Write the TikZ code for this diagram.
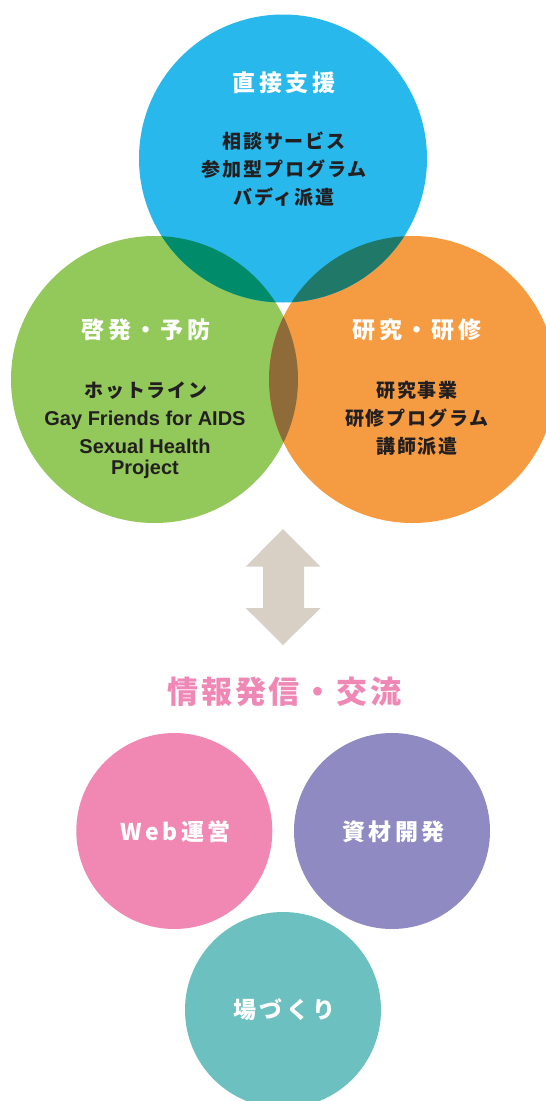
\documentclass[tikz,border=0pt]{standalone}
\usepackage{fontspec}
\newfontfamily\cjkhead[LetterSpace=15]{Noto Sans CJK JP}
\newfontfamily\cjkbody[LetterSpace=10]{Noto Sans CJK JP}
\newfontfamily\cjktitle[LetterSpace=9]{Noto Sans CJK JP}
\newfontfamily\latsans{Liberation Sans}
\definecolor{cblue}{HTML}{29B8EB}
\definecolor{cgreen}{HTML}{92C95A}
\definecolor{corange}{HTML}{F59C42}
\definecolor{cbg}{HTML}{008B6B}
\definecolor{cbo}{HTML}{207868}
\definecolor{cgo}{HTML}{8E6B38}
\definecolor{cpink}{HTML}{F088B3}
\definecolor{cpurple}{HTML}{8F8BC2}
\definecolor{cteal}{HTML}{6DC0C0}
\definecolor{carrow}{HTML}{D8D0C5}
\definecolor{ctitle}{HTML}{F088B6}
\definecolor{ctext}{HTML}{231F20}
\tikzset{
  disc/.style={circle, inner sep=0pt, minimum size=#1},
  headtxt/.style={anchor=base, text=white, font=\cjkhead\bfseries\fontsize{23}{23}\selectfont},
  bodytxt/.style={anchor=base, text=ctext, font=\cjkbody\bfseries\fontsize{19}{19}\selectfont},
  lattxt/.style={anchor=base, text=ctext, font=\latsans\bfseries\fontsize{20}{20}\selectfont},
  titletxt/.style={anchor=base, text=ctitle, font=\cjktitle\bfseries\fontsize{31}{31}\selectfont},
}
\begin{document}
\begin{tikzpicture}[x=1pt,y=-1pt]
\clip (0,0) rectangle (546,1101);
\fill[white] (0,0) rectangle (546,1101);
% three main circles
\node[disc=287pt, fill=cgreen] (green) at (154.5,379.5) {};
\node[disc=287pt, fill=corange] (orange) at (412.5,379.5) {};
\node[disc=288pt, fill=cblue] (blue) at (283,158.5) {};
% overlaps
\begin{scope}
  \clip (blue.center) circle[radius=144];
  \fill[cbg] (green.center) circle[radius=143.5];
\end{scope}
\begin{scope}
  \clip (blue.center) circle[radius=144];
  \fill[cbo] (orange.center) circle[radius=143.5];
\end{scope}
\begin{scope}
  \clip (green.center) circle[radius=143.5];
  \fill[cgo] (orange.center) circle[radius=143.5];
\end{scope}
% texts blue
\node[headtxt] (b0) at (284,91.5) {直接支援};
\node[bodytxt] (b1) at (284,148) {相談サービス};
\node[bodytxt] (b2) at (284,176) {参加型プログラム};
\node[bodytxt] (b3) at (284,204) {バディ派遣};
% texts green
\node[headtxt] (g0) at (146,338.5) {啓発・予防};
\node[bodytxt] (g1) at (146,397) {ホットライン};
\node[lattxt] (g2) at (145,425) {Gay Friends for AIDS};
\node[lattxt] (g3) at (145,453) {Sexual Health};
\node[lattxt] (g4) at (145,474) {Project};
% texts orange
\node[headtxt] (o0) at (417,338.5) {研究・研修};
\node[bodytxt] (o1) at (417,397) {研究事業};
\node[bodytxt] (o2) at (417,425) {研修プログラム};
\node[bodytxt] (o3) at (417,453) {講師派遣};
% double arrow
\coordinate (atop) at (283,529);
\coordinate (abot) at (283,645);
\fill[carrow] (atop) -- (320.7,566.7) -- (304,566.7) -- (304,608) -- (320.7,608) -- (abot)
  -- (245.7,608) -- (263,608) -- (263,566.7) -- (245.7,566.7) -- cycle;
% title
\node[titletxt] (title) at (284.5,703.5) {情報発信・交流};
% bottom circles
\node[disc=196pt, fill=cpink] (web) at (174.3,831) {};
\node[disc=196pt, fill=cpurple] (shizai) at (392,831) {};
\node[disc=196pt, fill=cteal] (ba) at (283,1010) {};
\node[headtxt] (webt) at (175.5,840.5) {Web運営};
\node[headtxt] (shizait) at (393.5,840.5) {資材開発};
\node[headtxt] (bat) at (284.5,1018.5) {場づくり};
\end{tikzpicture}
\end{document}
